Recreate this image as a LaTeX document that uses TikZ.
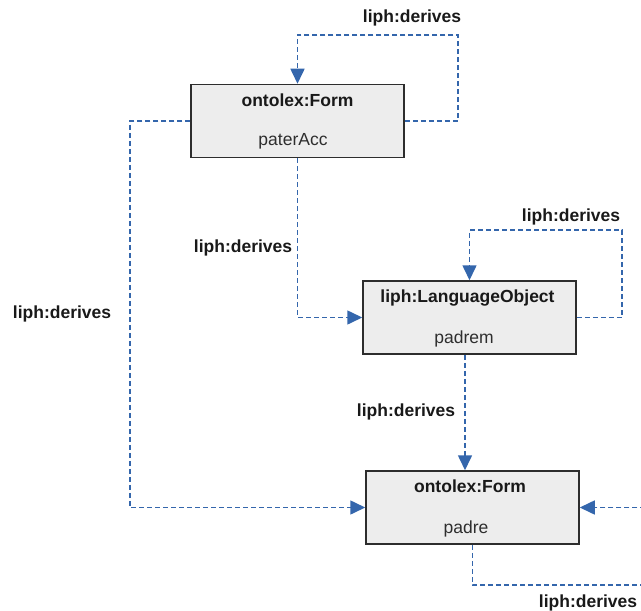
\documentclass[tikz,border=0pt]{standalone}
\usepackage{fontspec}
\setmainfont{Liberation Sans}
\usetikzlibrary{arrows.meta}
\definecolor{linkblue}{RGB}{52,102,172}
\definecolor{boxfill}{RGB}{237,237,237}
\definecolor{boxline}{RGB}{45,45,45}
\tikzset{
  box/.style={draw=boxline, fill=boxfill, line width=1.5bp, minimum width=213bp, minimum height=73bp, inner sep=0pt},
  link/.style={draw=linkblue, line width=1.6bp, dash pattern=on 5bp off 3bp, -{Triangle[length=15bp,width=14bp,fill=linkblue]}},
  title/.style={font=\fontsize{17.5bp}{20bp}\selectfont\bfseries, text=black!90, anchor=base, inner sep=0pt},
  inst/.style={font=\fontsize{17.5bp}{20bp}\selectfont, text=black!82, anchor=base, inner sep=0pt},
  rel/.style={font=\fontsize{17.5bp}{20bp}\selectfont\bfseries, text=black!90, anchor=base, inner sep=0pt}
}
\begin{document}
\begin{tikzpicture}[x=1bp,y=-1bp]
\useasboundingbox (0,0) rectangle (641,611);
\clip (0,0) rectangle (641,611);

% boxes
\node[box] (f1) at (297.5,121) {};
\node[title] (f1t) at (297.5,107) {ontolex:Form};
\node[inst] (f1i) at (293,146) {paterAcc};

\node[box] (lo) at (469.5,317.5) {};
\node[title] (lot) at (467.5,302) {liph:LanguageObject};
\node[inst] (loi) at (464,343) {padrem};

\node[box] (f3) at (472.5,507.5) {};
\node[title] (f3t) at (470,492) {ontolex:Form};
\node[inst] (f3i) at (466,533) {padre};

% derivation links, each bend drawn as its own dashed polyline
\draw[link] (f1.east) -| (458,35) -| (f1.north);
\node[rel] (l1) at (412,23) {liph:derives};

\draw[link] (f1.south) |- (lo.west);
\node[rel] (l2) at (243,252) {liph:derives};

\draw[link] (f1.west) -| (130,300) |- (f3.west);
\node[rel] (l3) at (62,318) {liph:derives};

\draw[link] (lo.east) -| (622,230) -| (lo.north);
\node[rel] (l4) at (571,221) {liph:derives};

\draw[link] ([xshift=-4.5bp]lo.south) -- ([xshift=-4.5bp]lo.south |- f3.north);
\node[rel] (l5) at (406,416) {liph:derives};

\draw[link] (f3.south) |- (680,585) |- (f3.east);
\node[rel] (l6) at (588,607) {liph:derives};
\end{tikzpicture}
\end{document}
